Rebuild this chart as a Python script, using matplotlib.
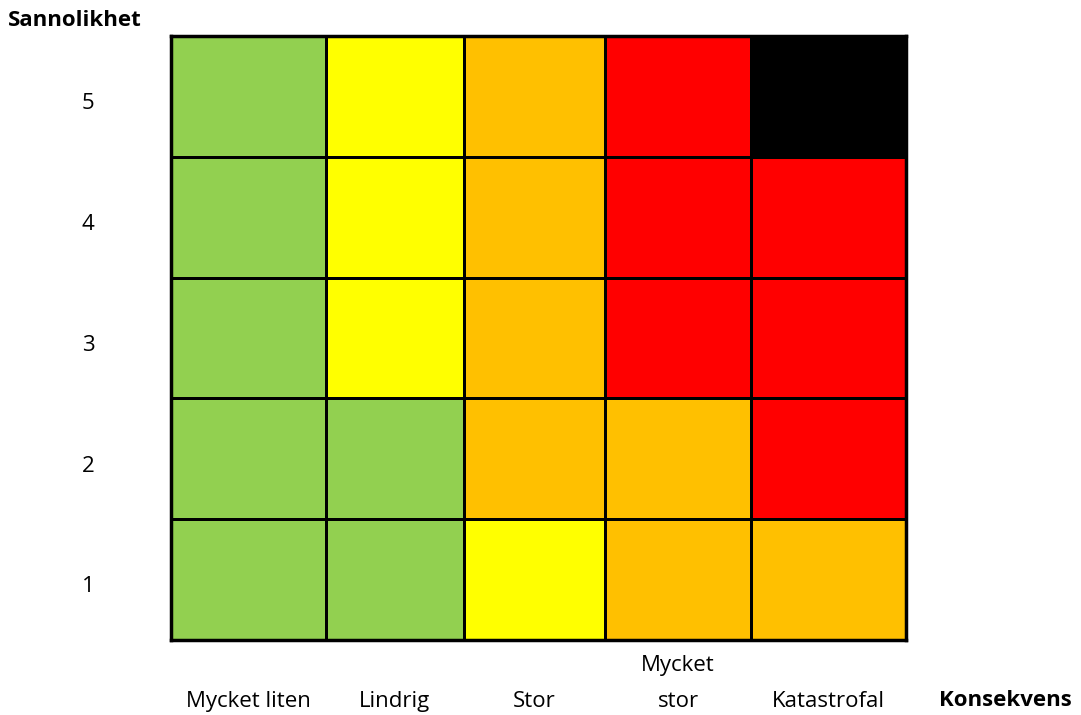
import numpy as np
import matplotlib.pyplot as plt
from matplotlib.colors import ListedColormap

# Riskmatris: sannolikhet (rader, 1 längst ner) x konsekvens (kolumner)
konsekvens = ["Mycket liten", "Lindrig", "Stor", "Mycket\nstor", "Katastrofal"]
sannolikhet = ["1", "2", "3", "4", "5"]
# risknivå: 0=grön, 1=gul, 2=orange, 3=röd, 4=svart
risk = [
    [0, 0, 1, 2, 2],  # 1
    [0, 0, 2, 2, 3],  # 2
    [0, 1, 2, 3, 3],  # 3
    [0, 1, 2, 3, 3],  # 4
    [0, 1, 2, 3, 4],  # 5
]
farger = ["#92D050", "#FFFF00", "#FFC000", "#FF0000", "#000000"]
kolumnbredd = [155, 138, 141, 146, 155]

plt.rcParams["font.family"] = ["Open Sans", "DejaVu Sans"]
fs = 16

W, H = 1081, 715
fig = plt.figure(figsize=(W / 100, H / 100), dpi=100)
ax = fig.add_axes([171 / W, (H - 640) / H, 735 / W, 604 / H])

x_kanter = np.concatenate([[0], np.cumsum(kolumnbredd)])
y_kanter = np.arange(len(sannolikhet) + 1)
ax.pcolormesh(x_kanter, y_kanter, np.array(risk), cmap=ListedColormap(farger),
              vmin=-0.5, vmax=len(farger) - 0.5, edgecolors="black", linewidth=2)
ax.set_xlim(x_kanter[0], x_kanter[-1])
ax.set_ylim(y_kanter[0], y_kanter[-1])
for s in ax.spines.values():
    s.set_linewidth(2.5)

# y-etiketter
ax.set_xticks([])
ax.set_yticks(y_kanter[:-1] + 0.46, sannolikhet)
ax.tick_params(axis="y", length=0, pad=55, labelsize=fs)

# x-etiketter
mitt = (x_kanter[:-1] + x_kanter[1:]) / 2
for xm, lab in zip(mitt, konsekvens):
    ax.text(xm, -0.6, lab, ha="center", va="bottom", fontsize=fs,
            linespacing=1.95, transform=ax.transData)

fig.text(75 / W, 1 - 20 / H, "Sannolikhet", ha="center", va="center",
         fontsize=fs, fontweight="bold")
fig.text(1005 / W, 1 - 701 / H, "Konsekvens", ha="center", va="center",
         fontsize=fs, fontweight="bold")

fig.savefig("out.png", dpi=100)
